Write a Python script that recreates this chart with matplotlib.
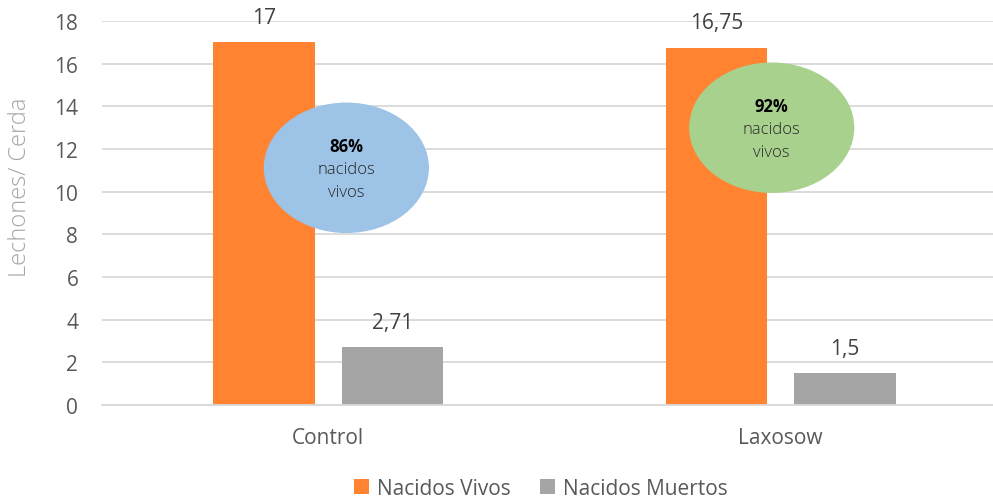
import numpy as np
import matplotlib.pyplot as plt
from matplotlib.patches import Ellipse

plt.rcParams['font.family'] = ['Open Sans', 'DejaVu Sans']

groups = ["Control", "Laxosow"]
vivos = [17, 16.75]
muertos = [2.71, 1.5]
vivos_labels = ["17", "16,75"]
muertos_labels = ["2,71", "1,5"]
pct = ["86%", "92%"]
ellipse_colors = ["#9DC3E6", "#A9D18E"]
# ellipse centres (data coords)
ell_x = [0.04, 0.98]
ell_y = [11.12, 13.0]

orange = "#FF8330"
gray = "#A5A5A5"
txt = "#595959"

fig = plt.figure(figsize=(9.93, 5.02), dpi=100)
ax = fig.add_axes([0.1027, 0.1912, 0.9114, 0.7649])

x = np.arange(len(groups))
w = 0.225
off = 0.142
ax.bar(x - off, vivos, w, color=orange, label="Nacidos Vivos", zorder=2)
ax.bar(x + off, muertos, w, color=gray, label="Nacidos Muertos", zorder=2)

for i in range(len(groups)):
    ax.text(x[i] - off, vivos[i] + 1.17, vivos_labels[i], ha="center", va="center",
            fontsize=15, color="#404040")
    ax.text(x[i] + off, muertos[i] + 1.17, muertos_labels[i], ha="center", va="center",
            fontsize=15, color="#404040")
    e = Ellipse((ell_x[i], ell_y[i]), 0.362, 6.05, color=ellipse_colors[i], zorder=3)
    ax.add_patch(e)
    ax.text(ell_x[i], ell_y[i] + 1.0, pct[i], ha="center", va="center",
            fontsize=12, fontweight="bold", color="black", zorder=4)
    ax.text(ell_x[i], ell_y[i] - 0.05, "nacidos", ha="center", va="center",
            fontsize=12, color="#262626", fontweight="light", zorder=4)
    ax.text(ell_x[i], ell_y[i] - 1.15, "vivos", ha="center", va="center",
            fontsize=12, color="#262626", fontweight="light", zorder=4)

ax.set_xlim(-0.5, 1.5)
ax.set_ylim(0, 18)
ax.set_yticks(range(0, 19, 2))
ax.set_xticks(x)
ax.set_xticklabels(groups)
ax.tick_params(length=0, labelsize=15, colors=txt)
ax.tick_params(axis="y", pad=17)
ax.tick_params(axis="x", pad=16)
ax.yaxis.grid(True, color="#D9D9D9", linewidth=1.3, zorder=0)
ax.set_axisbelow(True)
for s in ["top", "right", "left"]:
    ax.spines[s].set_visible(False)
ax.spines["bottom"].set_color("#D9D9D9")
ax.spines["bottom"].set_linewidth(1.3)
ax.set_ylabel("Lechones/ Cerda", fontsize=17, color="#A6A6A6", fontweight="light",
              va="center")
ax.yaxis.set_label_coords(-0.0906, 0.57)

fig.legend(loc="center", bbox_to_anchor=(0.545, 0.025), ncol=2, frameon=False,
           fontsize=15, handlelength=0.7, handleheight=0.7, handletextpad=0.4,
           columnspacing=1.4, labelcolor=txt)

fig.savefig("out.png", dpi=100)
